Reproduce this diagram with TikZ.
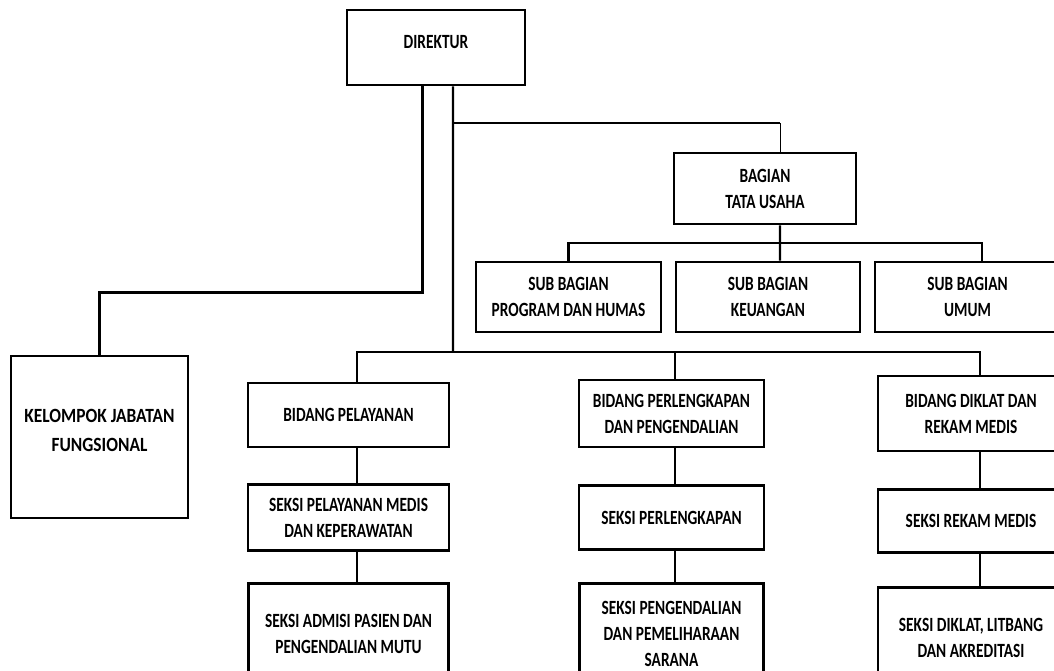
\documentclass[tikz,border=0pt]{standalone}
\usepackage{fontspec}
\setmainfont{Carlito}[FakeStretch=0.76]
\newfontfamily\kjffont{Carlito}[FakeStretch=0.86]
\usepackage{tikz}
\usetikzlibrary{positioning}

\begin{document}
\begin{tikzpicture}[x=0.02cm,y=-0.02cm,
  font=\fontsize{11.5}{14.8}\selectfont\bfseries,
  unit/.style={draw,line width=1.6pt,align=center,inner sep=2pt,fill=white},
  conn/.style={line width=1.4pt},
  thinconn/.style={line width=0.5pt}]
\useasboundingbox (0,0) rectangle (1054,671);
\clip (0,0) rectangle (1054,671);
% top of the chart
\node[unit,minimum width=35.6mm,minimum height=15mm] (dir) at (436,47.5) {\raisebox{1mm}[\height][\depth]{DIREKTUR}};
\node[unit,minimum width=36.4mm,minimum height=14.2mm] (tu) at (765,188.5) {BAGIAN\\TATA USAHA};
\node[unit,minimum width=37mm,minimum height=14mm] (prog) at (568.5,297) {SUB BAGIAN\\PROGRAM DAN HUMAS};
\node[unit,minimum width=36.8mm,minimum height=14mm] (keu) at (768,297) {SUB BAGIAN\\KEUANGAN};
\node[unit,minimum width=37mm,minimum height=14mm] (umum) at (967.5,297) {SUB BAGIAN\\UMUM};
\node[unit,minimum width=35.4mm,minimum height=32.4mm,font=\kjffont\fontsize{11.5}{17}\selectfont\bfseries] (kjf) at (99.5,437) {\raisebox{1.2mm}[\height][\depth]{\begin{tabular}{@{}c@{}}KELOMPOK JABATAN\\FUNGSIONAL\end{tabular}}};
% bidang and seksi
\node[unit,minimum width=40.2mm,minimum height=12.8mm] (bp) at (348.5,415) {BIDANG PELAYANAN};
\node[unit,minimum width=40.2mm,minimum height=13.2mm,below=7mm of bp] (spm) {SEKSI PELAYANAN MEDIS\\DAN KEPERAWATAN};
\node[unit,minimum width=40mm,minimum height=20mm,below=6mm of spm] (sap) {SEKSI ADMISI PASIEN DAN\\PENGENDALIAN MUTU};
\node[unit,minimum width=37mm,minimum height=13.4mm] (bpp) at (671.5,413.5) {BIDANG PERLENGKAPAN\\DAN PENGENDALIAN};
\node[unit,minimum width=37mm,minimum height=12.8mm,below=7.2mm of bpp] (sper) {SEKSI PERLENGKAPAN};
\node[unit,minimum width=36.8mm,minimum height=20mm,below=6.2mm of sper] (spen) {SEKSI PENGENDALIAN\\DAN PEMELIHARAAN\\SARANA};
\node[unit,minimum width=37.2mm,minimum height=15mm] (bd) at (971,413.5) {BIDANG DIKLAT DAN\\REKAM MEDIS};
\node[unit,minimum width=37.2mm,minimum height=12.6mm,below=7.2mm of bd] (srm) {SEKSI REKAM MEDIS};
\node[unit,minimum width=37.2mm,minimum height=20mm,below=6.4mm of srm] (sdl) {SEKSI DIKLAT, LITBANG\\DAN AKREDITASI};
% connectors
\coordinate (tbar) at (453,123);
\coordinate (bbar) at (453,352);
\coordinate (sbar) at (780,243);
\draw[conn] ([xshift=-2.7mm]dir.south) -- ++(0,206) -| (kjf.north);
\draw[conn] ([xshift=3.4mm]dir.south) -- (bbar);
\draw[conn] (tbar) -- ([xshift=3mm]tu.north |- tbar);
\draw[thinconn] ([xshift=3mm]tu.north) -- ([xshift=3mm]tu.north |- tbar);
\draw[conn] ([xshift=3mm]tu.south) -- ([xshift=2.4mm]keu.north);
\draw[conn] (prog.north) |- (sbar) -| ([xshift=2.9mm]umum.north);
\draw[conn] ([xshift=1.7mm]bp.north) |- (bbar) -| ([xshift=1.8mm]bd.north);
\draw[conn] ([xshift=0.7mm]bpp.north) -- ([xshift=0.7mm]bpp.north |- bbar);
\draw[conn] ([xshift=1.7mm]bp.south) -- ([xshift=1.7mm]spm.north);
\draw[conn] ([xshift=1.7mm]spm.south) -- ([xshift=1.7mm]sap.north);
\draw[conn] ([xshift=0.7mm]bpp.south) -- ([xshift=0.7mm]sper.north);
\draw[conn] ([xshift=0.7mm]sper.south) -- ([xshift=0.7mm]spen.north);
\draw[conn] ([xshift=1.8mm]bd.south) -- ([xshift=1.8mm]srm.north);
\draw[conn] ([xshift=1.8mm]srm.south) -- ([xshift=1.8mm]sdl.north);
\end{tikzpicture}
\end{document}
